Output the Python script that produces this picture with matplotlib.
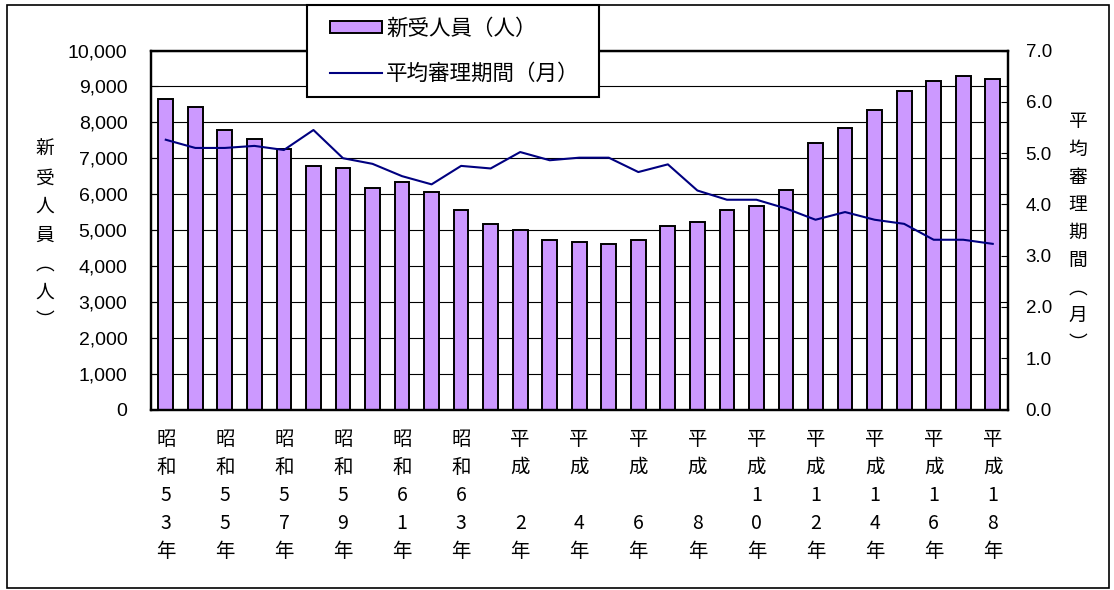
import numpy as np
import matplotlib.pyplot as plt
from matplotlib.patches import Rectangle

plt.rcParams['font.family'] = ['Liberation Sans', 'Noto Sans CJK JP']
CJK = ['Noto Sans CJK JP', 'DejaVu Sans']

# 昭和53年 - 平成18年
years = ['昭和53年', '昭和54年', '昭和55年', '昭和56年', '昭和57年', '昭和58年',
         '昭和59年', '昭和60年', '昭和61年', '昭和62年', '昭和63年',
         '平成1年', '平成2年', '平成3年', '平成4年', '平成5年', '平成6年',
         '平成7年', '平成8年', '平成9年', '平成10年', '平成11年', '平成12年',
         '平成13年', '平成14年', '平成15年', '平成16年', '平成17年', '平成18年']
new_cases = [8660, 8440, 7780, 7530, 7250, 6790, 6740, 6180, 6350, 6060,
             5560, 5180, 5010, 4730, 4670, 4620, 4730, 5120, 5230, 5560,
             5680, 6120, 7430, 7840, 8330, 8880, 9160, 9280, 9220]
avg_months = [5.26, 5.10, 5.10, 5.14, 5.06, 5.45, 4.90, 4.79, 4.55, 4.39,
              4.75, 4.70, 5.02, 4.86, 4.91, 4.91, 4.63, 4.78, 4.27, 4.09,
              4.09, 3.92, 3.70, 3.85, 3.70, 3.62, 3.31, 3.31, 3.23]
left_label = '新受人員︵人︶'
right_label = '平均審理期間︵月︶'
bar_name = '新受人員（人）'
line_name = '平均審理期間（月）'

W, H = 1114, 590
fig = plt.figure(figsize=(W / 100, H / 100), dpi=100)


def fx(px):
    return px / W


def fy(py):
    return 1 - py / H


ax = fig.add_axes([fx(151), fy(409.5), fx(1007.5 - 151), (409.5 - 50.5) / H])
x = np.arange(len(years))

bars = ax.bar(x, new_cases, width=0.5, color='#CC99FF', edgecolor='black',
              linewidth=1.4, zorder=2)
ax.set_xlim(-0.5, len(years) - 0.5)
ax.set_ylim(0, 10000)
ax.set_yticks(np.arange(0, 10001, 1000))
ax.yaxis.set_major_formatter(lambda v, p: f'{v:,.0f}')
ax.grid(axis='y', color='black', linewidth=0.8)
ax.set_axisbelow(True)
ax.set_xticks([])
ax.tick_params(axis='y', direction='in', length=5, labelsize=14, pad=17)

ax2 = ax.twinx()
line, = ax2.plot(x, avg_months, color='#000080', linewidth=1.5)
ax2.set_ylim(0, 7)
ax2.set_yticks(np.arange(0, 7.01, 1.0))
ax2.yaxis.set_major_formatter(lambda v, p: f'{v:.1f}')
ax2.tick_params(axis='y', direction='in', length=5, labelsize=13.5, pad=13)
ax2.set_xticks([])

for a in (ax, ax2):
    for s in a.spines.values():
        s.set_linewidth(1.6)


# vertical year labels under every other bar
def stack_year(label):
    era, num = label[:2], label[2:-1].rjust(2)
    return [era[0], era[1], num[0], num[1], '年']


for i in range(0, len(years), 2):
    for r, ch in enumerate(stack_year(years[i])):
        if ch.strip():
            dy = 27.8 + r * 28.0 + 7.3
            ax.annotate(ch, xy=(i, 0), xycoords=('data', 'axes fraction'),
                        xytext=(0, -dy * 0.72), textcoords='offset points',
                        ha='center', va='baseline', fontsize=14, family=CJK,
                        annotation_clip=False)

# vertical axis titles
for k, ch in enumerate(left_label):
    fig.text(fx(45), fy(148 + k * 28.5 + 7.1), ch, ha='center', va='baseline',
             fontsize=13.5, family=CJK)
for k, ch in enumerate(right_label):
    fig.text(fx(1078), fy(120 + k * 27.7 + 7.1), ch, ha='center', va='baseline',
             fontsize=13.5, family=CJK)

# legend box overlapping the top of the plot
fig.add_artist(Rectangle((fx(307), fy(97)), fx(292), (97 - 5) / H,
                         transform=fig.transFigure, facecolor='white',
                         edgecolor='black', linewidth=1.5, zorder=3))
fig.legend([bars, line], [bar_name, line_name], loc='upper left',
           bbox_to_anchor=(fx(330), fy(18)), frameon=False, borderpad=0,
           borderaxespad=0, handlelength=2.4, handleheight=0.5,
           handletextpad=0.2, labelspacing=1.05,
           prop={'family': CJK, 'size': 15.5})

# outer border
fig.add_artist(Rectangle((fx(7), fy(588)), fx(1109 - 7), (588 - 5) / H,
                         transform=fig.transFigure, fill=False,
                         edgecolor='black', linewidth=1.2, zorder=4))

fig.savefig('out.png', dpi=100)
